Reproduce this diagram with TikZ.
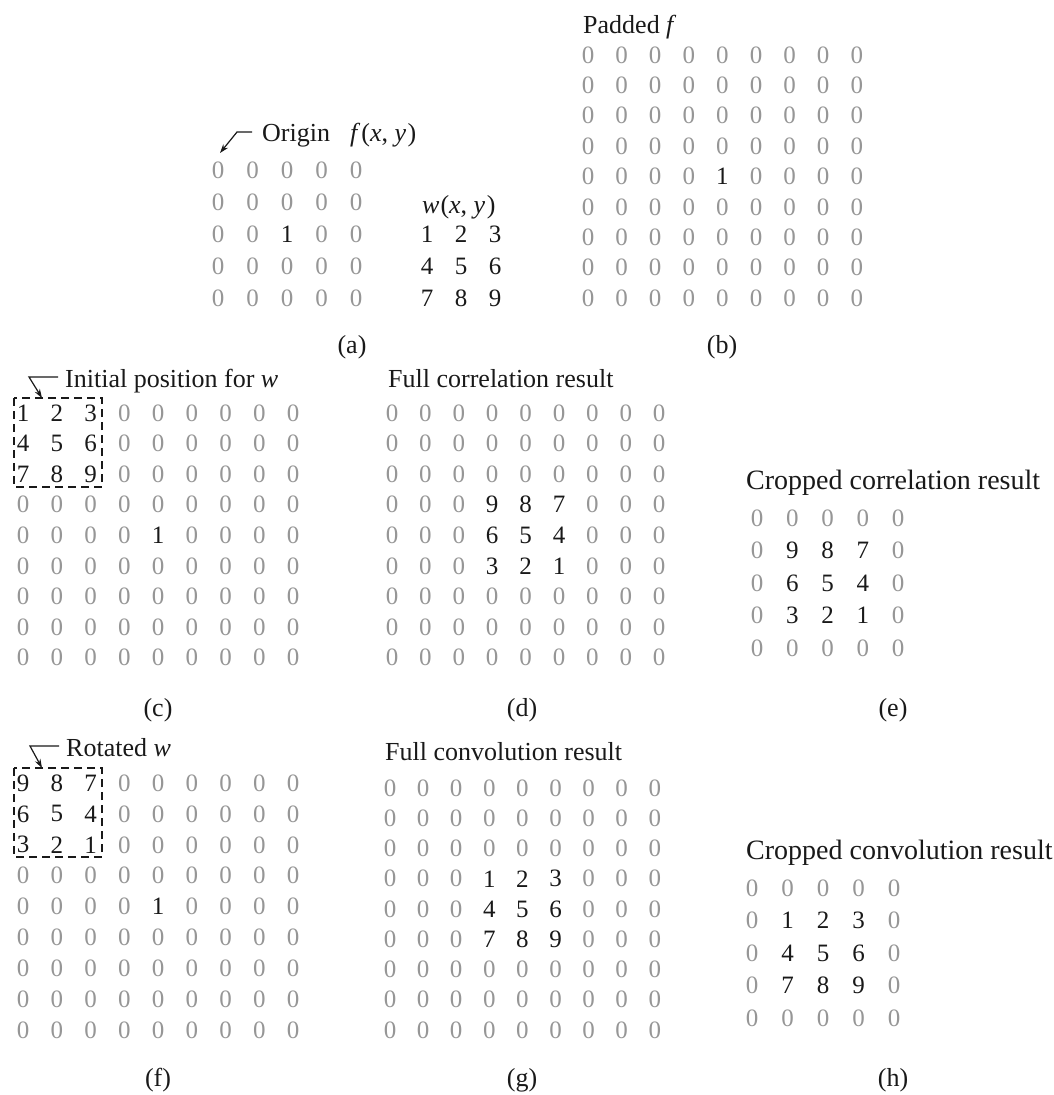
\documentclass[tikz,border=0pt]{standalone}
\usepackage{fontspec}
\setmainfont{Liberation Serif}
\usetikzlibrary{arrows.meta,calc}
\definecolor{zerogray}{RGB}{150,150,150}
\definecolor{digblack}{RGB}{25,25,25}
\newcommand\drawgrid[6]{%
  \foreach \rowvals [count=\i] in {#6} {%
    \foreach \v [count=\j] in \rowvals {%
      \ifnum\v=0 \def\mycol{zerogray}\else\def\mycol{digblack}\fi
      \node[dig, text=\mycol] (#1-\i-\j) at ({#2+(\j-1)*#3},{#4+(\i-1)*#5}) {\v};
    }%
  }%
}
\newcommand\fnxy[1]{\textit{#1}\kern1pt(\textit{x}, \textit{y}\kern1.5pt)}
\tikzset{
  dig/.style={font=\fontsize{25}{30}\selectfont, inner sep=0pt, anchor=center},
  ttl/.style={font=\fontsize{26}{31}\selectfont, inner sep=0pt, anchor=base west, text=digblack},
  bigttl/.style={ttl, font=\fontsize{28}{33}\selectfont},
  sublbl/.style={font=\fontsize{26}{31}\selectfont, inner sep=0pt, anchor=center, text=digblack},
  arr/.style={draw=digblack, line width=1.2pt, -{Stealth[length=9pt,width=6pt]}},
  wbox/.style={draw=digblack, line width=1.3pt, dash pattern=on 8pt off 5pt}
}
\begin{document}
\begin{tikzpicture}[x=1pt,y=-1pt]
\useasboundingbox (0,0) rectangle (1053,1095);

% ---------------- (a)
\node[ttl] (lbl-origin) at (262,141) {Origin};
\node[ttl] (lbl-f) at (350,141) {\fnxy{f}};
\coordinate (a-tip) at (220,153);
\draw[arr] ($(lbl-origin.base west)+(-10,-9)$) -- ++(-15,0) -- (a-tip);
\drawgrid{fa}{218}{34.5}{170}{32}{{0,0,0,0,0},{0,0,0,0,0},{0,0,1,0,0},{0,0,0,0,0},{0,0,0,0,0}}
\node[ttl] (lbl-w) at (422,213) {\fnxy{w}};
\drawgrid{wa}{427}{34}{234}{32}{{1,2,3},{4,5,6},{7,8,9}}
\node[sublbl] (sub-a) at (352,347) {(a)};

% ---------------- (b)
\node[ttl] (lbl-padded) at (583,33) {Padded \textit{f}};
\drawgrid{pb}{588}{33.6}{55}{30.4}{{0,0,0,0,0,0,0,0,0},{0,0,0,0,0,0,0,0,0},{0,0,0,0,0,0,0,0,0},{0,0,0,0,0,0,0,0,0},{0,0,0,0,1,0,0,0,0},{0,0,0,0,0,0,0,0,0},{0,0,0,0,0,0,0,0,0},{0,0,0,0,0,0,0,0,0},{0,0,0,0,0,0,0,0,0}}
\node[sublbl] (sub-b) at (722,347) {(b)};

% ---------------- (c)
\node[ttl] (lbl-init) at (65,387) {Initial position for \textit{w}};
\coordinate (c-tip) at (42,398);
\draw[arr] ($(lbl-init.base west)+(-7,-10)$) -- ++(-29,0) -- (c-tip);
\drawgrid{gc}{23}{33.75}{413}{30.6}{{1,2,3,0,0,0,0,0,0},{4,5,6,0,0,0,0,0,0},{7,8,9,0,0,0,0,0,0},{0,0,0,0,0,0,0,0,0},{0,0,0,0,1,0,0,0,0},{0,0,0,0,0,0,0,0,0},{0,0,0,0,0,0,0,0,0},{0,0,0,0,0,0,0,0,0},{0,0,0,0,0,0,0,0,0}}
\draw[wbox] (14,398) rectangle (102,487);
\node[sublbl] (sub-c) at (158,710) {(c)};

% ---------------- (d)
\node[ttl] (lbl-fullcorr) at (388,387) {Full correlation result};
\drawgrid{gd}{392}{33.4}{413}{30.6}{{0,0,0,0,0,0,0,0,0},{0,0,0,0,0,0,0,0,0},{0,0,0,0,0,0,0,0,0},{0,0,0,9,8,7,0,0,0},{0,0,0,6,5,4,0,0,0},{0,0,0,3,2,1,0,0,0},{0,0,0,0,0,0,0,0,0},{0,0,0,0,0,0,0,0,0},{0,0,0,0,0,0,0,0,0}}
\node[sublbl] (sub-d) at (522,710) {(d)};

% ---------------- (e)
\node[bigttl] (lbl-cropcorr) at (746,489) {Cropped correlation result};
\drawgrid{ge}{757}{35.3}{518}{32.5}{{0,0,0,0,0},{0,9,8,7,0},{0,6,5,4,0},{0,3,2,1,0},{0,0,0,0,0}}
\node[sublbl] (sub-e) at (893,710) {(e)};

% ---------------- (f)
\node[ttl] (lbl-rot) at (66,756) {Rotated \textit{w}};
\coordinate (f-tip) at (42,768);
\draw[arr] ($(lbl-rot.base west)+(-7,-10)$) -- ++(-29,0) -- (f-tip);
\drawgrid{gf}{23}{33.75}{783}{30.9}{{9,8,7,0,0,0,0,0,0},{6,5,4,0,0,0,0,0,0},{3,2,1,0,0,0,0,0,0},{0,0,0,0,0,0,0,0,0},{0,0,0,0,1,0,0,0,0},{0,0,0,0,0,0,0,0,0},{0,0,0,0,0,0,0,0,0},{0,0,0,0,0,0,0,0,0},{0,0,0,0,0,0,0,0,0}}
\draw[wbox] (14,768) rectangle (102,857);
\node[sublbl] (sub-f) at (158,1080) {(f)};

% ---------------- (g)
\node[ttl] (lbl-fullconv) at (385,760) {Full convolution result};
\drawgrid{gg}{390}{33.1}{788}{30.25}{{0,0,0,0,0,0,0,0,0},{0,0,0,0,0,0,0,0,0},{0,0,0,0,0,0,0,0,0},{0,0,0,1,2,3,0,0,0},{0,0,0,4,5,6,0,0,0},{0,0,0,7,8,9,0,0,0},{0,0,0,0,0,0,0,0,0},{0,0,0,0,0,0,0,0,0},{0,0,0,0,0,0,0,0,0}}
\node[sublbl] (sub-g) at (522,1080) {(g)};

% ---------------- (h)
\node[bigttl] (lbl-cropconv) at (746,859) {Cropped convolution result};
\drawgrid{gh}{752}{35.5}{888}{32.5}{{0,0,0,0,0},{0,1,2,3,0},{0,4,5,6,0},{0,7,8,9,0},{0,0,0,0,0}}
\node[sublbl] (sub-h) at (893,1080) {(h)};
\end{tikzpicture}
\end{document}
